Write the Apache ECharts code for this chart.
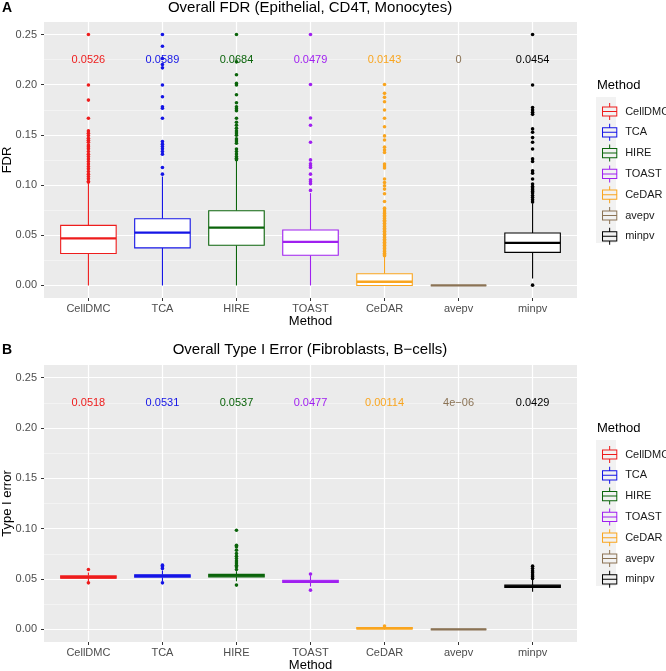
<!DOCTYPE html>
<html>
<head>
<meta charset="utf-8">
<script src="https://cdn.jsdelivr.net/npm/echarts@6/dist/echarts.min.js"></script>
<style>
  html, body { margin: 0; padding: 0; background: #fff; }
  #chart { width: 666px; height: 671px; }
</style>
</head>
<body>
<div id="chart"></div>
<script>
const methods = ["CellDMC", "TCA", "HIRE", "TOAST", "CeDAR", "avepv", "minpv"];
const methodColors = ["#EE1C1C", "#1414E6", "#0B640B", "#A020F0", "#F9A51F", "#8B7355", "#000000"];
const yTicks = [0, 0.05, 0.1, 0.15, 0.2, 0.25];
const yMinorTicks = [0.025, 0.075, 0.125, 0.175, 0.225];
const meanLabelY = 0.225;

// [lower whisker, Q1, median, Q3, upper whisker]
const fdrBoxes = [
  [0, 0.0318, 0.0470, 0.0599, 0.1025],
  [0, 0.0374, 0.0526, 0.0665, 0.1086],
  [0, 0.0400, 0.0576, 0.0745, 0.1248],
  [0, 0.0301, 0.0434, 0.0553, 0.0920],
  [0, 0, 0.0037, 0.0116, 0.0290],
  [0, 0, 0, 0, 0],
  [0.0069, 0.0330, 0.0424, 0.0523, 0.0820]
];
const fdrMeans = ["0.0526", "0.0589", "0.0684", "0.0479", "0.0143", "0", "0.0454"];
const fdrOutliers = [
  [0.25, 0.1997, 0.1847, 0.1666, 0.1540, 0.1517, 0.1493, 0.1467, 0.1447, 0.1427, 0.1400, 0.1381, 0.1361,
   0.1334, 0.1308, 0.1284, 0.1261, 0.1235, 0.1209, 0.1185, 0.1162, 0.1135, 0.1109, 0.1086, 0.1063, 0.1036, 0.1030],
  [0.25, 0.2384, 0.2262, 0.2202, 0.2168, 0.1997, 0.1880, 0.1781, 0.1765, 0.1666, 0.1434, 0.1408, 0.1384,
   0.1361, 0.1334, 0.1308, 0.1175, 0.1109],
  [0.25, 0.2228, 0.2100, 0.2013, 0.1997, 0.1900, 0.1820, 0.1780, 0.1760, 0.1740, 0.1666, 0.1626, 0.1596,
   0.1566, 0.1540, 0.1520, 0.1497, 0.1460, 0.1440, 0.1417, 0.1360, 0.1334, 0.1310, 0.1284, 0.1268, 0.1252],
  [0.25, 0.2003, 0.1669, 0.1596, 0.1427, 0.1251, 0.1212, 0.1192, 0.1175, 0.1109, 0.1053, 0.1033, 0.1013, 0.0947],
  [0.2003, 0.1914, 0.1874, 0.1831, 0.1748, 0.1666, 0.1582, 0.1490, 0.1450, 0.1378, 0.1350, 0.1324, 0.1210,
   0.1190, 0.1170, 0.1060, 0.1026, 0.0994, 0.0960, 0.0914, 0.0837, 0.0770, 0.0752, 0.0731, 0.0716, 0.0698,
   0.0684, 0.0667, 0.0650, 0.0636, 0.0619, 0.0603, 0.0588, 0.0571, 0.0556, 0.0540, 0.0523, 0.0509, 0.0493,
   0.0478, 0.0461, 0.0446, 0.0430, 0.0415, 0.0400, 0.0384, 0.0369, 0.0353, 0.0338, 0.0322, 0.0307, 0.0296],
  [],
  [0.25, 0.1997, 0.1772, 0.1748, 0.1725, 0.1705, 0.1560, 0.1527, 0.1473, 0.1427, 0.1360, 0.1261, 0.1235,
   0.1142, 0.1119, 0.1060, 0.1010, 0.0986, 0.0970, 0.0954, 0.0937, 0.0920, 0.0897, 0.0877, 0.0854, 0.0831, 0.0003]
];

const errBoxes = [
  [0.0470, 0.0508, 0.0518, 0.0532, 0.0565],
  [0.0475, 0.0519, 0.0531, 0.0543, 0.0585],
  [0.0478, 0.0522, 0.0534, 0.0546, 0.0578],
  [0.0425, 0.0466, 0.0476, 0.0488, 0.0530],
  [0, 0.0004, 0.0011, 0.0019, 0.0030],
  [0, 0, 0, 0, 0],
  [0.0373, 0.0416, 0.0428, 0.0440, 0.0490]
];
const errMeans = ["0.0518", "0.0531", "0.0537", "0.0477", "0.00114", "4e\u221206", "0.0429"];
const errOutliers = [
  [0.0595, 0.0462],
  [0.0638, 0.0621, 0.0605, 0.0462],
  [0.0985, 0.0836, 0.0820, 0.0787, 0.0754, 0.0727, 0.0704, 0.0680, 0.0660, 0.0638, 0.0621, 0.0595, 0.0440],
  [0.0549, 0.0390],
  [0.0033],
  [],
  [0.0628, 0.0605, 0.0581, 0.0562, 0.0539, 0.0522, 0.0506]
];

const FONT = "Liberation Sans, Arial, Helvetica, sans-serif";
// ggplot-like boxplot legend key: whiskers, outlined box, median
const boxIcon = "path://M9.4,0 L10.6,0 L10.6,4 L19,4 L19,16 L10.6,16 L10.6,20 L9.4,20 L9.4,16 L1,16 L1,4 L9.4,4 Z " +
  "M2.2,5.2 L2.2,9.4 L17.8,9.4 L17.8,5.2 Z M2.2,10.6 L2.2,14.8 L17.8,14.8 L17.8,10.6 Z";

function makeBoxRender(means) {
  return function (params, api) {
    const x = api.value(0);
    const c = (k) => api.coord([x, api.value(k)]);
    const lo = c(1), q1 = c(2), md = c(3), q3 = c(4), hi = c(5);
    const half = api.size([0.75, 0])[0] / 2;
    const col = api.visual("color");
    const txt = api.coord([x, meanLabelY]);
    return {
      type: "group",
      children: [
        { type: "line", shape: { x1: md[0], y1: q3[1], x2: md[0], y2: hi[1] }, style: { stroke: col, lineWidth: 1.1 } },
        { type: "line", shape: { x1: md[0], y1: q1[1], x2: md[0], y2: lo[1] }, style: { stroke: col, lineWidth: 1.1 } },
        { type: "rect", shape: { x: md[0] - half, y: q3[1], width: half * 2, height: q1[1] - q3[1] },
          style: { fill: "#fff", stroke: col, lineWidth: 1.1 } },
        { type: "line", shape: { x1: md[0] - half, y1: md[1], x2: md[0] + half, y2: md[1] },
          style: { stroke: col, lineWidth: 2.3 } },
        { type: "text", x: txt[0], y: txt[1],
          style: { text: means[Math.round(x) - 1], fill: col, fontSize: 11,
                   fontFamily: FONT, align: "center", verticalAlign: "middle" } }
      ]
    };
  };
}

function makeAxes(gi, yName) {
  const xAxis = {
    gridIndex: gi, type: "value", min: 0.4, max: 7.6,
    name: "Method", nameLocation: "middle", nameGap: 16,
    nameTextStyle: { fontSize: 13, color: "#000", fontFamily: FONT },
    axisLine: { show: false, onZero: false },
    axisTick: { show: true, length: 3, lineStyle: { color: "#333", width: 1 }, customValues: [1, 2, 3, 4, 5, 6, 7] },
    axisLabel: { customValues: [1, 2, 3, 4, 5, 6, 7], formatter: (v) => methods[Math.round(v) - 1],
                 fontSize: 11, color: "#4D4D4D", margin: 5, fontFamily: FONT },
    splitLine: { show: true, lineStyle: { color: "#fff", width: 1.2 } }
  };
  const yMain = {
    gridIndex: gi, type: "value", min: -0.0125, max: 0.2625, position: "left",
    name: yName, nameLocation: "middle", nameGap: 30, nameMoveOverlap: false,
    nameTextStyle: { fontSize: 13, color: "#000", fontFamily: FONT },
    axisLine: { show: false, onZero: false },
    axisTick: { show: true, length: 3, lineStyle: { color: "#333", width: 1 }, customValues: yTicks },
    axisLabel: { customValues: yTicks, formatter: (v) => v.toFixed(2), fontSize: 11, color: "#4D4D4D",
                 margin: 7, fontFamily: FONT },
    splitLine: { show: true, lineStyle: { color: "#fff", width: 1.2 } }
  };
  const yMinor = {
    gridIndex: gi, type: "value", min: -0.0125, max: 0.2625, position: "left",
    axisLine: { show: false, onZero: false },
    axisTick: { show: false, customValues: yMinorTicks },
    axisLabel: { show: false, customValues: yMinorTicks },
    splitLine: { show: true, lineStyle: { color: "#F5F5F5", width: 0.8 } }
  };
  return { xAxis, yAxes: [yMinor, yMain] };
}

const axA = makeAxes(0, "FDR");
const axB = makeAxes(1, "Type I error");

const series = [];
[[fdrBoxes, fdrMeans, fdrOutliers], [errBoxes, errMeans, errOutliers]].forEach(([boxes, means, outs], p) => {
  methods.forEach((m, i) => {
    series.push({
      name: m, type: "custom", xAxisIndex: p, yAxisIndex: p * 2 + 1, z: 3, silent: true,
      itemStyle: { color: methodColors[i] },
      renderItem: makeBoxRender(means),
      data: [[i + 1].concat(boxes[i])]
    });
    series.push({
      name: m, type: "scatter", xAxisIndex: p, yAxisIndex: p * 2 + 1, z: 4, silent: true,
      symbolSize: 3.6, itemStyle: { color: methodColors[i], opacity: 1 },
      data: outs[i].map((v) => [i + 1, v])
    });
  });
});

const legendBase = {
  orient: "vertical", left: 597, itemWidth: 17, itemHeight: 17, itemGap: 3.8, selectedMode: false,
  icon: boxIcon, textStyle: { fontSize: 11, color: "#1A1A1A", fontFamily: FONT, padding: [0, 0, 0, 2] },
  data: methods
};

const gridBase = { show: true, backgroundColor: "#EBEBEB", borderWidth: 0, containLabel: false, outerBoundsMode: "none" };

const option = {
  backgroundColor: "#fff",
  animation: false,
  grid: [
    Object.assign({ left: 44, top: 22, width: 533, height: 276 }, gridBase),
    Object.assign({ left: 44, top: 365, width: 533, height: 277 }, gridBase)
  ],
  xAxis: [axA.xAxis, axB.xAxis],
  yAxis: [...axA.yAxes, ...axB.yAxes],
  legend: [
    Object.assign({}, legendBase, { top: 98 }),
    Object.assign({}, legendBase, { top: 441 })
  ],
  graphic: [
    { type: "rect", left: 596, top: 97, z: -1, shape: { width: 20, height: 146 }, style: { fill: "#F2F2F2" } },
    { type: "rect", left: 596, top: 440, z: -1, shape: { width: 20, height: 146 }, style: { fill: "#F2F2F2" } },
    { type: "text", x: 2, y: 8, style: { text: "A", fontSize: 14, fontWeight: "bold", fill: "#000", fontFamily: FONT, verticalAlign: "middle" } },
    { type: "text", x: 2, y: 350, style: { text: "B", fontSize: 14, fontWeight: "bold", fill: "#000", fontFamily: FONT, verticalAlign: "middle" } },
    { type: "text", x: 310, y: 8, style: { text: "Overall FDR (Epithelial, CD4T, Monocytes)", fontSize: 15, fill: "#000", fontFamily: FONT, align: "center", verticalAlign: "middle" } },
    { type: "text", x: 310, y: 350, style: { text: "Overall Type I Error (Fibroblasts, B\u2212cells)", fontSize: 15, fill: "#000", fontFamily: FONT, align: "center", verticalAlign: "middle" } },
    { type: "text", x: 597, y: 85, style: { text: "Method", fontSize: 13, fill: "#000", fontFamily: FONT, verticalAlign: "middle" } },
    { type: "text", x: 597, y: 428, style: { text: "Method", fontSize: 13, fill: "#000", fontFamily: FONT, verticalAlign: "middle" } }
  ],
  series: series
};

const chart = echarts.init(document.getElementById("chart"), null, { renderer: "canvas" });
chart.setOption(option);
</script>
</body>
</html>
